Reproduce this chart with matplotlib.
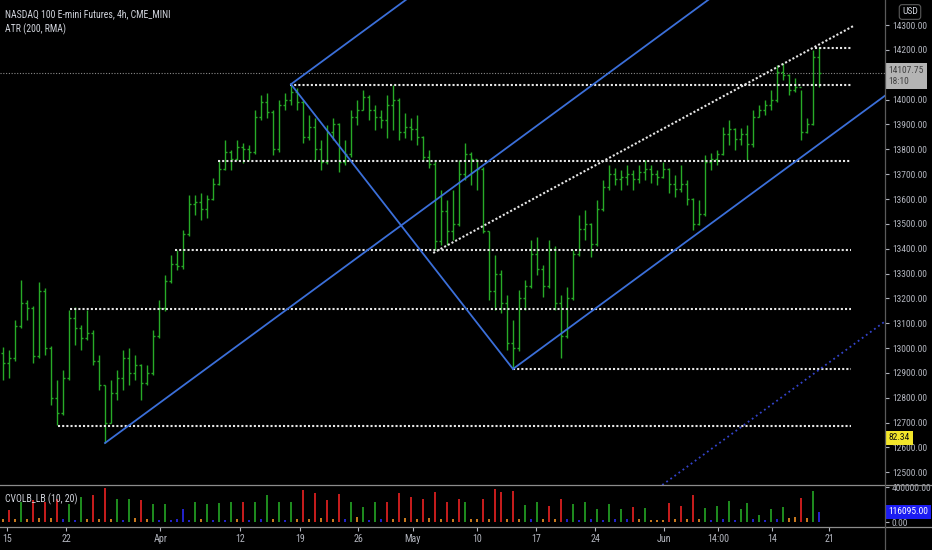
import matplotlib.pyplot as plt
from matplotlib import font_manager
from matplotlib.font_manager import FontProperties
from matplotlib.textpath import TextPath
from matplotlib.collections import LineCollection
from matplotlib.lines import Line2D

# pick a narrow face if one is installed (the chart uses a condensed UI font)
fam, stretch = 'DejaVu Sans', 'normal'
prefer = ['Liberation Sans Narrow', 'Roboto Condensed', 'Open Sans Condensed', 'Noto Sans', 'DejaVu Sans']
found = {}
for f in font_manager.fontManager.ttflist:
    st = str(f.stretch).lower()
    if f.style == 'normal' and ('narrow' in f.name.lower() or 'condensed' in f.name.lower() or 'condensed' in st):
        if 'bold' not in str(f.weight).lower() and f.weight in (400, 'normal', 'regular', 'book'):
            found.setdefault(f.name, f.stretch)
for name in prefer:
    if name in found:
        fam, stretch = name, found[name]
        break
plt.rcParams['font.family'] = [fam, 'DejaVu Sans']
plt.rcParams['font.stretch'] = stretch


def fit_size(text, px, top=8):
    w = TextPath((0, 0), text, size=10, prop=FontProperties(family=fam, stretch=stretch)).get_extents().width
    return min(top, 10 * px * 0.72 / w)


# NQ 4h bars (one entry per ~half session)
highs = [13004, 12992, 13113, 13274, 13193, 13170, 13266, 13240, 13010, 12871,
         12912, 13153, 13165, 13093, 13153, 13073, 12972, 12851, 12871, 12912,
         12992, 13000, 12972, 12935, 12932, 13073, 13193, 13294, 13375, 13395,
         13475, 13616, 13616, 13624, 13616, 13684, 13757, 13837, 13797, 13837,
         13825, 13817, 13958, 14018, 14026, 13960, 13998, 14026, 14062, 14046,
         13998, 13938, 13926, 13837, 13898, 13926, 13905, 13837, 13958, 13998,
         14038, 14018, 13978, 13958, 14018, 14059, 14005, 13946, 13926, 13938,
         13855, 13797, 13757, 13636, 13596, 13636, 13757, 13825, 13790, 13757,
         13730, 13470, 13375, 13314, 13214, 13113, 13234, 13274, 13435, 13447,
         13334, 13435, 13410, 13214, 13246, 13395, 13535, 13556, 13505, 13596,
         13676, 13737, 13725, 13717, 13737, 13717, 13737, 13757, 13737, 13717,
         13749, 13725, 13696, 13737, 13676, 13605, 13596, 13777, 13785, 13797,
         13890, 13918, 13885, 13886, 13898, 13958, 13978, 13998, 14038, 14139,
         14147, 14105, 14087, 14038, 13926, 14199, 14211]
lows = [12871, 12880, 12950, 13080, 13113, 12940, 12960, 12972, 12771, 12690,
        12730, 12871, 13012, 12992, 13032, 12932, 12831, 12618, 12698, 12791,
        12831, 12851, 12871, 12791, 12851, 12892, 13040, 13150, 13260, 13314,
        13318, 13450, 13535, 13515, 13523, 13596, 13656, 13717, 13717, 13757,
        13745, 13757, 13780, 13920, 13926, 13777, 13790, 13958, 13978, 13958,
        13825, 13837, 13757, 13717, 13740, 13837, 13708, 13737, 13770, 13898,
        13958, 13918, 13877, 13886, 13845, 13877, 13837, 13845, 13837, 13817,
        13757, 13725, 13395, 13415, 13415, 13435, 13490, 13676, 13656, 13636,
        13463, 13193, 13153, 13141, 12992, 12916, 12990, 13153, 13240, 13294,
        13206, 13240, 13153, 12960, 13040, 13193, 13370, 13435, 13366, 13410,
        13550, 13636, 13656, 13636, 13656, 13636, 13664, 13676, 13664, 13656,
        13684, 13624, 13608, 13628, 13576, 13475, 13495, 13530, 13717, 13737,
        13777, 13817, 13797, 13817, 13757, 13810, 13930, 13938, 13958, 13990,
        14079, 14018, 14030, 13837, 13865, 13898, 14050]
closes = [12940, 12960, 13090, 13180, 13160, 12970, 13230, 13000, 12800, 12740,
          12880, 13120, 13080, 13040, 13060, 12950, 12850, 12700, 12820, 12880,
          12960, 12900, 12930, 12860, 12900, 13050, 13160, 13270, 13340, 13330,
          13460, 13580, 13590, 13560, 13600, 13660, 13720, 13790, 13760, 13810,
          13800, 13790, 13930, 13990, 13950, 13800, 13980, 14000, 14030, 13990,
          13850, 13890, 13800, 13750, 13870, 13900, 13750, 13780, 13930, 13960,
          14010, 13960, 13930, 13920, 13980, 14000, 13870, 13890, 13880, 13850,
          13770, 13740, 13430, 13550, 13470, 13500, 13700, 13780, 13760, 13720,
          13470, 13230, 13300, 13180, 13020, 13000, 13200, 13250, 13380, 13320,
          13250, 13400, 13180, 13050, 13200, 13380, 13480, 13500, 13420, 13560,
          13650, 13700, 13680, 13690, 13700, 13680, 13710, 13720, 13700, 13690,
          13720, 13660, 13640, 13660, 13600, 13500, 13540, 13750, 13760, 13780,
          13860, 13880, 13840, 13860, 13820, 13930, 13960, 13980, 14000, 14110,
          14100, 14040, 14050, 13870, 13900, 14170, 14107.75]
first_open = 12980

# CVOLB volume (thousands) and its colour class: r/g high, o mid, b low
vol_k = [40, 133, 30, 229, 35, 248, 45, 229, 50, 267,
         30, 210, 25, 286, 30, 312, 35, 392, 40, 267,
         25, 267, 45, 248, 30, 210, 25, 210, 20, 40,
         152, 25, 229, 30, 210, 25, 217, 20, 229, 30,
         229, 25, 229, 30, 312, 40, 229, 25, 229, 35,
         362, 40, 331, 45, 248, 40, 324, 30, 229, 60,
         171, 25, 229, 30, 229, 40, 335, 45, 286, 40,
         267, 50, 343, 40, 229, 35, 267, 229, 35, 35,
         267, 40, 373, 343, 40, 351, 35, 190, 30, 229,
         35, 183, 40, 267, 30, 210, 25, 229, 30, 152,
         25, 210, 30, 152, 35, 171, 30, 160, 20, 19,
         25, 217, 30, 183, 35, 305, 35, 160, 25, 183,
         30, 236, 25, 152, 217, 30, 84, 25, 145, 30,
         171, 45, 60, 274, 50, 351, 116.095]
vol_kind = ["orogororor", "bgbgororog", "bgorogbgbb", "bbgogbgbgo", "rbgbgogbgo",
            "rorororbgo", "gbgbrororo", "rorororgoo", "rorrorogbg", "ororbgbgbg",
            "bgbgbrogoo", "orororogbg", "bgbggbgbgb", "goorogb"]

date_pos = [0.67, 10.5, 26.2, 39.5, 49.5, 59.2, 68.3, 79, 88.8, 98.7, 110.2, 119.2, 128.2, 137.7]
date_lbl = ['15', '22', 'Apr', '12', '19', '26', 'May', '10', '17', '24', 'Jun', '14:00', '14', '21']

# price scale ticks; 14100 sits under the last-price tag
price_ticks = [12500, 12600, 12700, 12800, 12900, 13000, 13100, 13200, 13300, 13400,
               13500, 13600, 13700, 13800, 13900, 14000, 14200, 14300]

levels = [14207, 14058, 13753, 13395, 13157, 12916, 12686]
level_start = [135.3, 47.8, 35.8, 28.7, 11.2, 85, 9.2]
level_end = 141.3

pivot_x = [17, 48, 85]
pivot_p = [12618, 14062, 12916]
channel_slope = 17.74   # points per bar
trend_x = [71.7, 141.7]
trend_p = [13383, 14296]

last_price = 14107.75
atr_val = 82.34

kind_col = {'r': '#c41c1c', 'g': '#1e8a1e', 'b': '#2222c8', 'o': '#c8781e'}
n = len(closes)
vol_colors = [kind_col[k] for k in ''.join(vol_kind)]

fs = fit_size('14300.00', 34)
fs_title = fit_size('NASDAQ 100 E-mini Futures, 4h, CME_MINI', 165)

fig = plt.figure(figsize=(9.32, 5.5), dpi=100, facecolor='black')
ax = fig.add_axes([0, 65 / 550, 885 / 932, 485 / 550], facecolor='black')
axv = fig.add_axes([0, 23 / 550, 885 / 932, 42 / 550], facecolor='black', sharex=ax)

# price bars
opens = [first_open] + closes[:-1]
segs = []
for i in range(n):
    segs.append([(i, lows[i]), (i, highs[i])])
    segs.append([(i - 0.4, opens[i]), (i, opens[i])])
    segs.append([(i, closes[i]), (i + 0.4, closes[i])])
ax.add_collection(LineCollection(segs, colors='#27aa27', linewidths=1.0, zorder=3))

ax.axhline(last_price, color='#8a8a8a', lw=0.8, ls=(0, (1, 1.5)), zorder=1)

for p, x0 in zip(levels, level_start):
    ax.plot([x0, level_end], [p, p], color='#e6e6e6', lw=1.5, ls=(0, (1, 1)), zorder=4)

ax.plot(trend_x, trend_p, color='#e6e6e6', lw=1.5, ls=(0, (1, 1)), zorder=4)

# channel drawn from the three pivots
blue = '#3b6fd9'
x_far = 170
for px, pp in zip(pivot_x, pivot_p):
    ax.plot([px, x_far], [pp, pp + channel_slope * (x_far - px)], color=blue, lw=1.3, zorder=5)
ax.plot([pivot_x[1], pivot_x[2]], [pivot_p[1], pivot_p[2]], color=blue, lw=1.3, zorder=5)
width = pivot_p[0] + channel_slope * (pivot_x[2] - pivot_x[0]) - pivot_p[2]
ax.axline((pivot_x[2], pivot_p[2] - width), slope=channel_slope, color='#3444cc',
          lw=1.3, ls=(0, (1, 1.8)), zorder=5)

ax.set_xlim(-0.5, 147)
ax.set_ylim(12449, 14401)
ax.yaxis.tick_right()
ax.set_yticks(price_ticks)
ax.yaxis.set_major_formatter(lambda v, pos: f'{v:.2f}')
ax.tick_params(axis='y', colors='#b2b5be', labelsize=fs, length=3, width=0.8, pad=2)
ax.tick_params(axis='x', bottom=False, labelbottom=False)
for s in ax.spines.values():
    s.set_visible(False)

# volume panel
axv.bar(range(n), vol_k, width=0.45, color=vol_colors)
axv.set_ylim(-57, 423)
axv.yaxis.tick_right()
axv.set_yticks([0, 400])
axv.yaxis.set_major_formatter(lambda v, pos: f'{v * 1000:.2f}')
axv.tick_params(axis='y', colors='#b2b5be', labelsize=fs, length=3, width=0.8, pad=2)
axv.set_xticks(date_pos)
axv.set_xticklabels(date_lbl)
axv.tick_params(axis='x', colors='#b2b5be', labelsize=fs * 1.05, length=3, width=0.8, pad=2)
for s in axv.spines.values():
    s.set_visible(False)

# panel separators and price scale border
for yy in (485, 527):
    fig.add_artist(Line2D([0, 1], [1 - yy / 550] * 2, transform=fig.transFigure, color='#8c8c8c', lw=0.9))
fig.add_artist(Line2D([885 / 932] * 2, [0, 1], transform=fig.transFigure, color='#5a5a5a', lw=0.9))

# price scale labels
ax.annotate(f'{last_price:.2f}\n18:10', xy=(1, last_price), xycoords=('axes fraction', 'data'),
            xytext=(2.5, 5), textcoords='offset points', ha='left', va='top', fontsize=fs,
            color='#404040', linespacing=1.3,
            bbox=dict(boxstyle='square,pad=0.3', fc='#b4b4b4', ec='none'), zorder=10)
ax.annotate(f'{atr_val:.2f}', xy=(1, (485 - 438) / 485), xycoords='axes fraction',
            xytext=(2.5, 0), textcoords='offset points', ha='left', va='center', fontsize=fs,
            color='#101010', bbox=dict(boxstyle='square,pad=0.3', fc='#f2e52a', ec='none'),
            annotation_clip=False, zorder=10)
axv.annotate(f'{vol_k[-1] * 1000:.2f}', xy=(1, vol_k[-1]), xycoords=('axes fraction', 'data'),
             xytext=(2.5, 0), textcoords='offset points', ha='left', va='center', fontsize=fs,
             color='white', bbox=dict(boxstyle='square,pad=0.3', fc='#1c1cf2', ec='none'),
             annotation_clip=False, zorder=10)
fig.text(910 / 932, 1 - 12 / 550, 'USD', ha='center', va='center', fontsize=fs, color='#d1d4dc',
         bbox=dict(boxstyle='round,pad=0.3', fc='black', ec='#5a5a5a', lw=0.8))

fig.text(5 / 932, 1 - 14 / 550, 'NASDAQ 100 E-mini Futures, 4h, CME_MINI', ha='left', va='center',
         fontsize=fs_title, color='#d1d4dc')
fig.text(5 / 932, 1 - 29 / 550, 'ATR (200, RMA)', ha='left', va='center', fontsize=fs_title, color='#d1d4dc')
fig.text(5 / 932, 1 - 499 / 550, 'CVOLB_LB (10, 20)', ha='left', va='center', fontsize=fs_title, color='#d1d4dc')

fig.savefig('out.png', dpi=100, facecolor='black')
